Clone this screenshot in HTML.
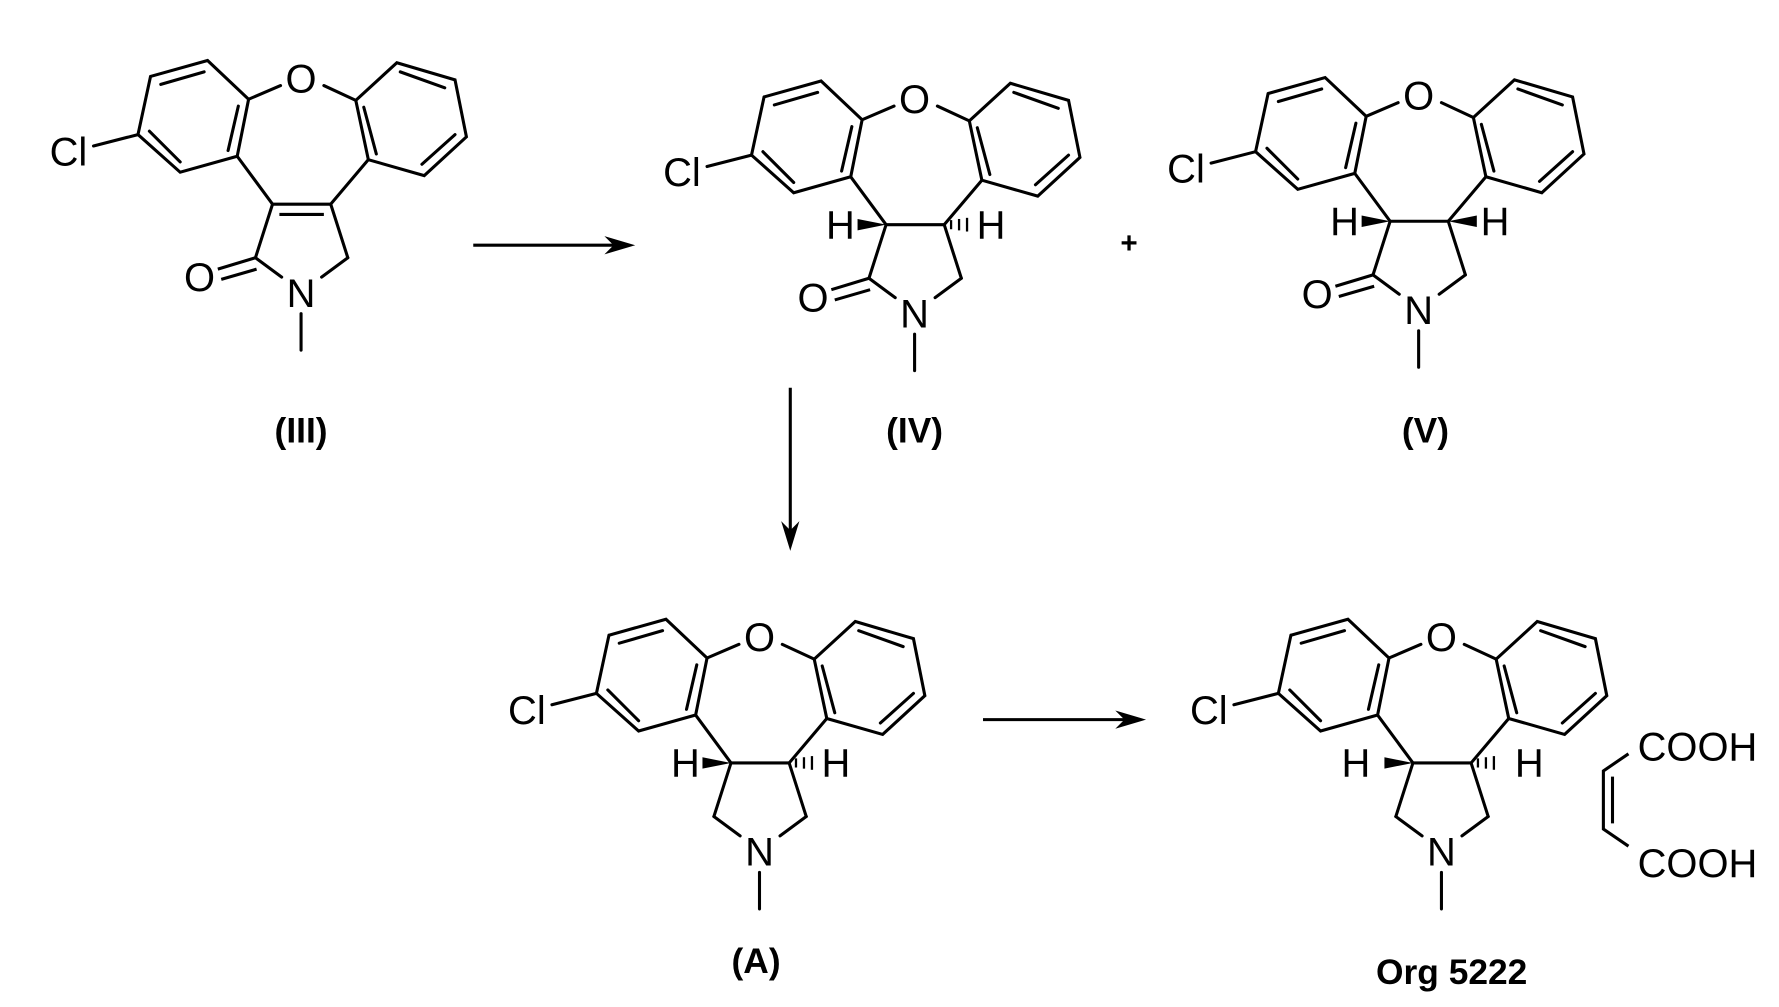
<!DOCTYPE html>
<html><head><style>
html,body{margin:0;padding:0;background:#fff;}
svg{display:block;}
text{font-family:"Liberation Sans",sans-serif;fill:#000;}
.a{font-size:35px;}
.l{font-size:31px;font-weight:bold;}
</style></head><body>
<svg width="1779" height="1007" viewBox="0 0 1560 883" xmlns="http://www.w3.org/2000/svg">
<defs>
<g id="sk" stroke="#000" stroke-width="2.7" fill="none" stroke-linecap="round">
<polyline points="132,67 182,53 218,87 208,137 158,151 121,118 132,67"/>
<line x1="121" y1="118" x2="82" y2="128"/>
<line x1="141" y1="74" x2="179" y2="63"/>
<line x1="209" y1="93" x2="200" y2="132"/>
<line x1="158" y1="142" x2="131" y2="115"/>
<line x1="218" y1="87" x2="246" y2="75"/>
<line x1="284" y1="75" x2="312" y2="88"/>
<polyline points="312,88 348,55 399,70 409,120 372,154 323,140 312,88"/>
<line x1="351" y1="63" x2="390" y2="77"/>
<line x1="399" y1="118" x2="370" y2="144"/>
<line x1="319" y1="94" x2="330" y2="135"/>
<line x1="208" y1="137" x2="239" y2="179"/>
<line x1="323" y1="140" x2="290" y2="179"/>
<line x1="239" y1="179" x2="224" y2="226"/>
<line x1="290" y1="179" x2="305" y2="226"/>
<line x1="224" y1="226" x2="247" y2="243"/>
<line x1="305" y1="226" x2="282" y2="243"/>
<line x1="264" y1="275" x2="264" y2="307"/>
</g>
<g id="co" stroke="#000" stroke-width="2.7" fill="none">
<line x1="224" y1="226" x2="191" y2="236"/>
<line x1="225" y1="236" x2="194" y2="245"/>
</g>
</defs>

<!-- III -->
<g>
<use href="#sk"/><use href="#co"/>
<g stroke="#000" stroke-width="2.7"><line x1="239" y1="179" x2="290" y2="179"/><line x1="245" y1="188" x2="284" y2="188"/></g>
<text class="a" x="264" y="81" text-anchor="middle">O</text>
<text class="a" x="60" y="145" text-anchor="middle">Cl</text>
<text class="a" x="264" y="269" text-anchor="middle">N</text>
<text class="a" x="175" y="255" text-anchor="middle">O</text>
<text class="l" x="264" y="388" text-anchor="middle">(III)</text>
</g>

<!-- arrow 1 -->
<g stroke="#000" stroke-width="2.7"><line x1="415" y1="215" x2="545" y2="215"/></g>
<polygon points="557,215 530,207 538,215 530,223"/>

<!-- IV -->
<g transform="translate(538,18)">
<use href="#sk"/><use href="#co"/>
<line x1="239" y1="179" x2="290" y2="179" stroke="#000" stroke-width="2.7"/>
<polygon points="239,179 214,174 214,184"/>
<g stroke="#000" stroke-width="2"><line x1="296" y1="175" x2="296" y2="183"/><line x1="303" y1="174" x2="303" y2="184"/><line x1="310" y1="173" x2="310" y2="185"/></g>
<text class="a" x="264" y="81" text-anchor="middle">O</text>
<text class="a" x="60" y="145" text-anchor="middle">Cl</text>
<text class="a" x="264" y="269" text-anchor="middle">N</text>
<text class="a" x="175" y="255" text-anchor="middle">O</text>
<text class="a" x="199" y="191" text-anchor="middle">H</text>
<text class="a" x="331" y="191" text-anchor="middle">H</text>
<text class="l" x="264" y="370" text-anchor="middle">(IV)</text>
</g>

<text x="990" y="222" text-anchor="middle" style="font-size:26px;font-weight:bold">+</text>

<!-- V -->
<g transform="translate(980,15)">
<use href="#sk"/><use href="#co"/>
<line x1="239" y1="179" x2="290" y2="179" stroke="#000" stroke-width="2.7"/>
<polygon points="239,179 214,174 214,184"/>
<polygon points="290,179 315,174 315,184"/>
<text class="a" x="60" y="145" text-anchor="middle">Cl</text>
<text class="a" x="264" y="81" text-anchor="middle">O</text>
<text class="a" x="264" y="269" text-anchor="middle">N</text>
<text class="a" x="175" y="255" text-anchor="middle">O</text>
<text class="a" x="199" y="191" text-anchor="middle">H</text>
<text class="a" x="331" y="191" text-anchor="middle">H</text>
<text class="l" x="270" y="373" text-anchor="middle">(V)</text>
</g>

<!-- vertical arrow -->
<line x1="693" y1="340" x2="693" y2="470" stroke="#000" stroke-width="2.7"/>
<polygon points="693,483 685,457 693,465 701,457"/>

<!-- A -->
<g transform="translate(402,490)">
<use href="#sk"/>
<line x1="239" y1="179" x2="290" y2="179" stroke="#000" stroke-width="2.7"/>
<polygon points="239,179 214,174 214,184"/>
<g stroke="#000" stroke-width="2"><line x1="296" y1="175" x2="296" y2="183"/><line x1="303" y1="174" x2="303" y2="184"/><line x1="310" y1="173" x2="310" y2="185"/></g>
<text class="a" x="60" y="145" text-anchor="middle">Cl</text>
<text class="a" x="264" y="81" text-anchor="middle">O</text>
<text class="a" x="264" y="269" text-anchor="middle">N</text>
<text class="a" x="199" y="191" text-anchor="middle">H</text>
<text class="a" x="331" y="191" text-anchor="middle">H</text>
<text class="l" x="261" y="363" text-anchor="middle">(A)</text>
</g>

<!-- arrow 2 -->
<line x1="862" y1="631" x2="993" y2="631" stroke="#000" stroke-width="2.7"/>
<polygon points="1005,631 978,623 986,631 978,639"/>

<!-- Org 5222 -->
<g transform="translate(1000,490)">
<use href="#sk"/>
<line x1="239" y1="179" x2="290" y2="179" stroke="#000" stroke-width="2.7"/>
<polygon points="239,179 214,174 214,184"/>
<g stroke="#000" stroke-width="2"><line x1="296" y1="175" x2="296" y2="183"/><line x1="303" y1="174" x2="303" y2="184"/><line x1="310" y1="173" x2="310" y2="185"/></g>
<text class="a" x="60" y="145" text-anchor="middle">Cl</text>
<text class="a" x="264" y="81" text-anchor="middle">O</text>
<text class="a" x="264" y="269" text-anchor="middle">N</text>
<text class="a" x="189" y="191" text-anchor="middle">H</text>
<text class="a" x="341" y="191" text-anchor="middle">H</text>
<text class="l" x="273" y="373" text-anchor="middle">Org 5222</text>
</g>

<!-- maleic acid -->
<g stroke="#000" stroke-width="2.7" fill="none">
<polyline points="1428,661 1406,676 1406,727 1428,742"/>
<line x1="1414" y1="681" x2="1414" y2="722"/>
</g>
<text class="a" x="1436" y="667">COOH</text>
<text class="a" x="1436" y="769">COOH</text>
</svg>
</body></html>
